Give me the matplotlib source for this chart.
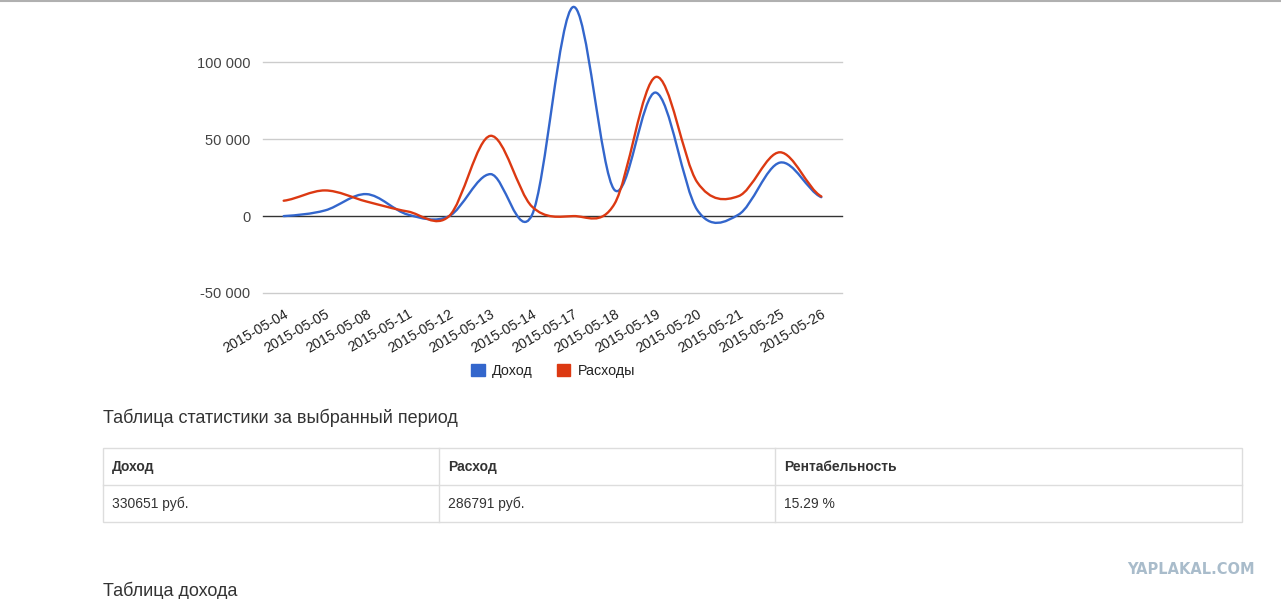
import numpy as np
import matplotlib.pyplot as plt
from matplotlib.path import Path
from matplotlib.patches import PathPatch, Patch, Rectangle
from matplotlib.lines import Line2D

plt.rcParams['font.family'] = ['Liberation Sans', 'DejaVu Sans']

# chart data
dates = ['2015-05-04', '2015-05-05', '2015-05-08', '2015-05-11', '2015-05-12',
         '2015-05-13', '2015-05-14', '2015-05-17', '2015-05-18', '2015-05-19',
         '2015-05-20', '2015-05-21', '2015-05-25', '2015-05-26']
income = [0, 3700, 14300, 1000, 0, 27300, 500, 136000, 17000, 80300,
          4000, 1000, 34800, 12300]
expenses = [10000, 16700, 9500, 3000, 0, 52200, 6300, 0, 8000, 90500,
            22000, 13000, 41500, 12800]
series_names = ['Доход', 'Расходы']
yticks = [-50000, 0, 50000, 100000]
ytick_labels = ['-50 000', '0', '50 000', '100 000']

# stats table
stat_title = 'Таблица статистики за выбранный период'
stat_headers = ['Доход', 'Расход', 'Рентабельность']
stat_values = ['330651 руб.', '286791 руб.', '15.29 %']
next_title = 'Таблица дохода'

BLUE = '#3366cc'
RED = '#dc3912'
W, H = 1281, 599


def smooth_path(xs, ys, k=1 / 6):
    # cardinal (catmull-rom like) bezier through the points
    n = len(xs)
    verts = [(xs[0], ys[0])]
    codes = [Path.MOVETO]
    for i in range(n - 1):
        x0, y0 = xs[i], ys[i]
        x1, y1 = xs[i + 1], ys[i + 1]
        ym = ys[i - 1] if i > 0 else y0
        yp = ys[i + 2] if i + 2 < n else y1
        verts += [(x0 + 1 / 3, y0 + (y1 - ym) * k),
                  (x1 - 1 / 3, y1 - (yp - y0) * k),
                  (x1, y1)]
        codes += [Path.CURVE4] * 3
    return Path(verts, codes)


fig = plt.figure(figsize=(W / 100, H / 100), dpi=100)

def fx(px):
    return px / W

def fy(py):
    return 1 - py / H

ax = fig.add_axes([fx(263), fy(293), fx(842 - 263), fy(0.4) - fy(293)])
x = np.arange(len(dates))
ax.set_xlim(-0.5, len(dates) - 0.5)
ax.set_ylim(-50000, 140260)

for v in yticks:
    if v == 0:
        ax.axhline(v, color='#333333', lw=1, zorder=1, clip_on=False)
    else:
        ax.axhline(v, color='#cccccc', lw=1, zorder=1, clip_on=False)

ax.add_patch(PathPatch(smooth_path(x, income), fill=False, edgecolor=BLUE,
                       lw=1.7, zorder=3, capstyle='round', joinstyle='round'))
ax.add_patch(PathPatch(smooth_path(x, expenses), fill=False, edgecolor=RED,
                       lw=1.7, zorder=3, capstyle='round', joinstyle='round'))

ax.set_yticks(yticks)
ax.set_yticklabels(ytick_labels, fontsize=10.5, color='#444444')
ax.set_xticks(x)
ax.set_xticklabels(dates, fontsize=10.3, color='#222222', rotation=30,
                   ha='right', va='top', rotation_mode='anchor')
ax.tick_params(axis='y', length=0, pad=9)
ax.tick_params(axis='x', length=0, pad=10)
for s in ax.spines.values():
    s.set_visible(False)
ax.set_facecolor('none')

handles = [Patch(facecolor=BLUE, edgecolor=BLUE), Patch(facecolor=RED, edgecolor=RED)]
fig.legend(handles, series_names, loc='center', bbox_to_anchor=(fx(553), fy(371)),
           ncol=2, frameon=False, fontsize=10.3, handlelength=0.95, handleheight=0.95,
           handletextpad=0.5, columnspacing=1.7, labelcolor='#222222')

# top border
fig.add_artist(Line2D([0, 1], [fy(0.8), fy(0.8)], color='#b0b0b0', lw=1.5))

# stats section
fig.text(fx(103), fy(418), stat_title, fontsize=13, color='#333333', va='center')

col_x = [103, 439, 775, 1242]
fig.add_artist(Rectangle((fx(103), fy(522)), fx(1242 - 103), fy(448) - fy(522),
                         fill=False, edgecolor='#dddddd', lw=1))
fig.add_artist(Line2D([fx(103), fx(1242)], [fy(485), fy(485)], color='#dddddd', lw=1))
for cx in col_x[1:3]:
    fig.add_artist(Line2D([fx(cx), fx(cx)], [fy(448), fy(522)], color='#dddddd', lw=1))
for i in range(3):
    fig.text(fx(col_x[i] + 9), fy(467), stat_headers[i], fontsize=10,
             fontweight='bold', color='#333333', va='center')
    fig.text(fx(col_x[i] + 9), fy(504), stat_values[i], fontsize=10,
             color='#333333', va='center')

fig.text(fx(103), fy(591), next_title, fontsize=13, color='#333333', va='center')
fig.text(fx(1255), fy(569), 'YAPLAKAL.COM', fontsize=10.5, fontweight='bold',
         color='#a9bccb', ha='right', va='center', family='DejaVu Sans')

fig.savefig('out.png', dpi=100, facecolor='white')
